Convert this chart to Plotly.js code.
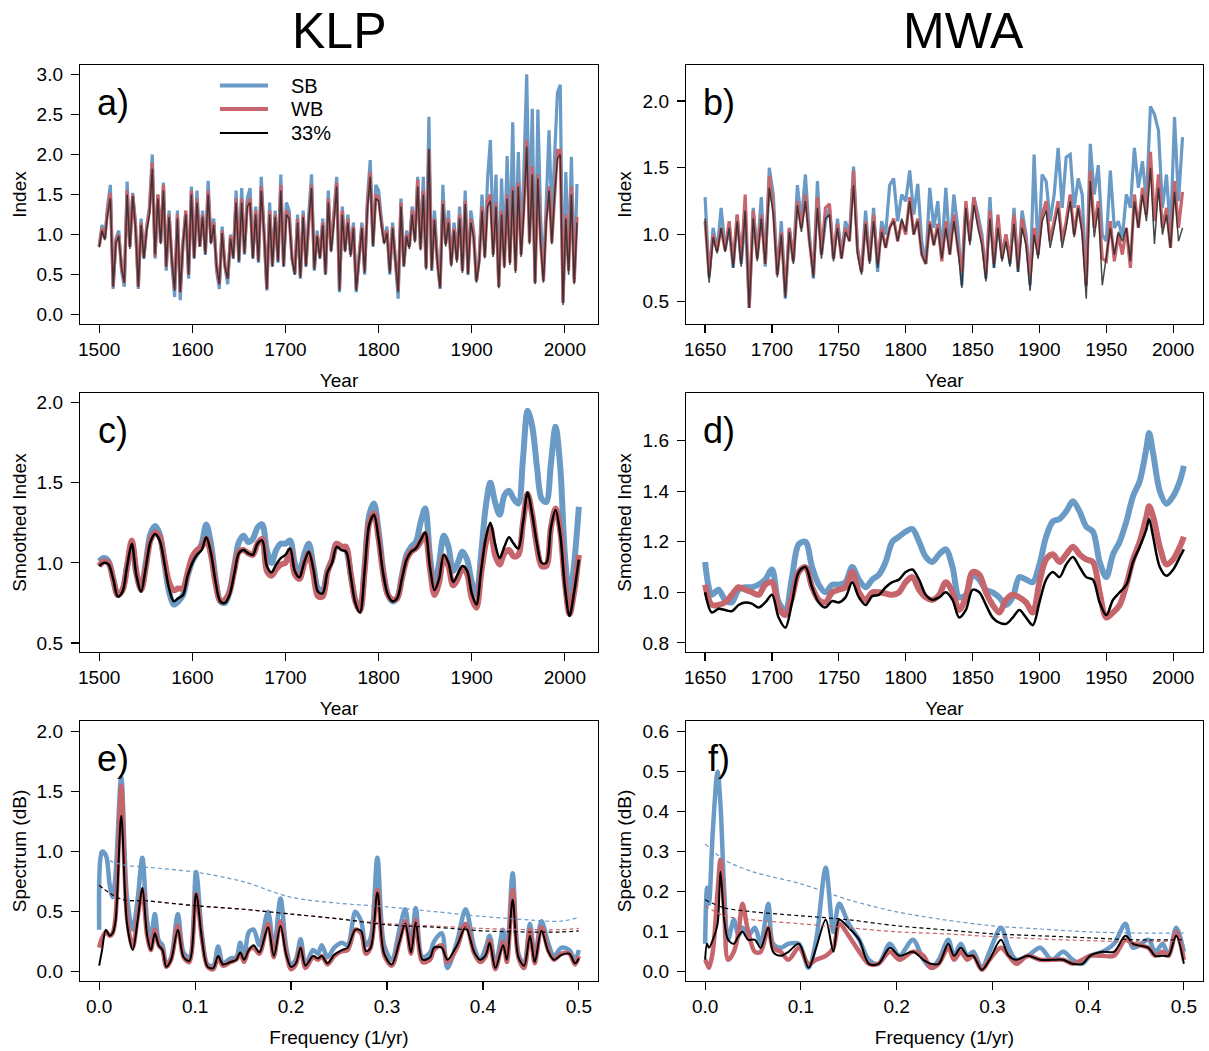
<!DOCTYPE html>
<html>
<head>
<meta charset="utf-8">
<script src="https://cdn.plot.ly/plotly-3.0.1.min.js"></script>
<style>html,body{margin:0;padding:0;background:#fff;}#chart{width:1209px;height:1051px;}</style>
</head>
<body>
<div id="chart"></div>
<script>
// ---------- Panel a: KLP annual index (every 3rd year from 1500) ----------
const aStart = 1500, aStep = 3;
const a_SB = [0.85,1.12,0.95,1.35,1.62,0.32,0.95,1.05,0.55,0.35,
1.66,0.85,1.52,1.15,0.32,1.2,0.7,1.1,1.35,2.0,
0.7,1.5,0.9,1.65,0.55,1.3,0.65,0.22,1.3,0.18,
0.9,1.27,0.45,1.6,0.7,1.55,0.85,1.3,0.75,1.67,
0.9,1.2,0.55,0.32,1.1,0.6,0.38,1.0,0.7,1.55,
0.65,1.58,0.75,1.45,1.58,0.7,1.35,0.65,1.72,1.1,
0.3,1.4,0.6,1.3,0.65,1.75,0.6,1.4,1.3,0.7,
0.5,1.25,0.45,1.3,0.6,1.25,1.75,0.55,1.05,0.7,
1.2,0.5,1.55,0.8,1.25,1.72,0.28,1.35,0.8,1.25,
0.75,1.15,0.28,0.75,1.15,0.5,1.45,1.93,0.85,1.62,
1.55,1.2,0.9,1.1,0.5,1.15,0.7,0.2,1.45,0.6,
1.05,0.85,1.35,0.95,1.72,0.85,1.72,0.6,2.47,0.55,
1.3,0.7,0.32,1.62,0.9,1.3,0.65,1.15,0.7,1.35,
0.55,1.55,0.5,1.3,1.05,0.42,0.7,1.5,0.8,1.7,
2.18,0.9,1.75,0.35,1.7,0.75,1.98,0.8,2.4,0.7,
2.03,0.9,1.8,3.0,1.1,2.57,0.4,2.56,1.2,0.5,
1.4,2.3,1.2,2.1,2.77,2.87,0.15,1.78,0.7,1.97,
0.45,1.63];
const a_WB = [0.85,1.08,0.95,1.3,1.52,0.35,0.92,1.0,0.6,0.4,
1.55,0.85,1.5,1.1,0.35,1.15,0.72,1.08,1.3,1.9,
0.72,1.5,0.9,1.62,0.6,1.25,0.7,0.32,1.25,0.28,
0.9,1.3,0.5,1.55,0.72,1.45,0.85,1.25,0.78,1.55,
0.9,1.15,0.6,0.38,1.05,0.62,0.45,0.98,0.72,1.45,
0.68,1.45,0.78,1.38,1.45,0.72,1.3,0.68,1.6,1.05,
0.32,1.3,0.62,1.25,0.68,1.62,0.62,1.3,1.22,0.72,
0.52,1.2,0.48,1.25,0.62,1.2,1.62,0.58,1.0,0.72,
1.15,0.52,1.45,0.8,1.2,1.65,0.32,1.3,0.8,1.2,
0.75,1.1,0.32,0.75,1.1,0.55,1.38,1.78,0.88,1.5,
1.45,1.15,0.9,1.05,0.55,1.1,0.72,0.3,1.4,0.62,
1.0,0.85,1.3,0.92,1.68,0.82,1.55,0.58,2.05,0.58,
1.2,0.68,0.35,1.42,0.88,1.2,0.62,1.08,0.68,1.25,
0.55,1.42,0.52,1.2,1.0,0.42,0.68,1.35,0.72,1.42,
1.5,0.75,1.4,0.35,1.3,0.6,1.5,0.65,1.6,0.55,
1.65,0.75,1.35,2.18,0.9,1.85,0.4,1.75,0.9,0.42,
1.2,1.6,0.9,1.55,2.05,2.05,0.15,1.25,0.55,1.6,
0.4,1.22];
const a_33 = [0.84,1.05,0.93,1.25,1.45,0.35,0.9,0.98,0.58,0.4,
1.5,0.82,1.48,1.08,0.35,1.12,0.7,1.05,1.25,1.82,
0.75,1.45,0.88,1.55,0.6,1.22,0.68,0.3,1.2,0.28,
0.88,1.25,0.5,1.5,0.7,1.4,0.85,1.22,0.75,1.5,
0.88,1.12,0.6,0.38,1.02,0.6,0.45,0.95,0.7,1.4,
0.66,1.4,0.76,1.35,1.4,0.7,1.25,0.66,1.55,1.02,
0.32,1.25,0.6,1.22,0.66,1.55,0.6,1.25,1.2,0.7,
0.5,1.15,0.46,1.22,0.6,1.18,1.58,0.56,0.98,0.7,
1.12,0.5,1.4,0.78,1.15,1.6,0.3,1.25,0.78,1.15,
0.72,1.08,0.3,0.72,1.08,0.52,1.32,1.72,0.85,1.45,
1.42,1.12,0.88,1.02,0.52,1.08,0.7,0.28,1.35,0.6,
0.98,0.82,1.25,0.9,1.6,0.8,1.5,0.56,2.07,0.55,
1.18,0.66,0.33,1.38,0.85,1.15,0.6,1.05,0.65,1.2,
0.52,1.38,0.5,1.15,0.97,0.4,0.65,1.3,0.7,1.35,
1.42,0.72,1.35,0.33,1.25,0.58,1.45,0.62,1.55,0.52,
1.6,0.72,1.3,2.1,0.88,1.75,0.38,1.7,0.88,0.4,
1.15,1.55,0.88,1.5,1.95,2.0,0.12,1.2,0.5,1.5,
0.38,1.15];

// ---------- Panel b: MWA annual index (every 3rd year from 1650) ----------
const bStart = 1650, bStep = 3;
const b_SB = [1.28,0.68,1.05,0.88,1.2,0.9,1.05,0.75,1.15,0.78,
1.15,0.45,1.2,0.85,1.28,0.76,1.5,1.3,0.7,1.1,
0.52,1.05,0.8,1.37,1.1,1.45,1.0,0.67,1.4,0.85,
1.1,1.2,0.82,1.12,0.85,1.1,1.0,1.51,0.9,0.72,
1.18,0.8,1.2,0.72,1.1,1.0,1.37,1.42,1.1,1.3,
1.25,1.48,1.15,1.38,0.95,0.78,1.35,1.05,1.25,0.85,
1.35,0.9,1.3,1.05,0.62,1.2,1.0,1.28,1.15,1.0,
0.67,1.28,0.75,1.1,0.85,1.0,0.78,1.2,0.72,1.18,
1.0,0.62,1.6,0.85,1.45,1.4,1.1,1.3,1.65,1.2,
1.58,1.6,1.2,1.42,1.3,0.62,1.68,1.3,1.52,1.0,
0.95,1.48,1.05,1.1,0.98,1.3,1.2,1.65,1.35,1.55,
1.25,1.96,1.9,1.78,1.2,1.45,1.0,1.88,1.25,1.73];
const b_WB = [1.1,0.7,1.0,0.88,1.05,0.88,1.1,0.78,1.15,0.8,
1.3,0.45,1.18,0.82,1.15,0.78,1.44,1.2,0.7,1.02,
0.55,1.05,0.8,1.25,1.05,1.3,0.95,0.7,1.28,0.85,
1.2,1.23,0.82,1.08,0.82,1.05,0.95,1.48,0.88,0.72,
1.1,0.8,1.15,0.78,1.05,0.9,1.05,1.12,0.95,1.1,
1.0,1.28,1.0,1.12,0.85,0.78,1.1,0.92,1.08,0.8,
1.1,0.85,1.15,0.9,0.72,1.25,0.95,1.28,1.1,0.95,
0.7,1.18,0.78,1.15,0.82,1.0,0.8,1.15,0.75,1.12,
0.95,0.68,1.05,0.85,1.15,1.25,0.95,1.1,1.25,0.95,
1.1,1.3,1.0,1.22,1.05,0.62,1.48,1.05,1.25,0.82,
0.8,1.1,0.8,1.0,0.85,1.05,0.75,1.3,1.05,1.35,
1.15,1.62,1.1,1.45,1.05,1.2,0.9,1.4,1.05,1.32];
const b_33 = [1.12,0.64,0.98,0.86,1.05,0.87,1.05,0.75,1.1,0.76,
1.18,0.45,1.12,0.8,1.12,0.78,1.35,1.15,0.68,1.0,
0.53,1.02,0.78,1.22,1.02,1.25,0.95,0.68,1.2,0.82,
1.12,1.15,0.8,1.05,0.82,1.02,0.95,1.37,0.85,0.7,
1.08,0.78,1.1,0.75,1.02,0.9,1.05,1.1,0.95,1.12,
1.02,1.25,1.0,1.1,0.85,0.78,1.08,0.92,1.05,0.82,
1.05,0.85,1.1,0.9,0.6,1.2,0.92,1.22,1.05,0.92,
0.65,1.12,0.75,1.05,0.8,0.95,0.76,1.08,0.72,1.05,
0.92,0.58,1.0,0.82,1.1,1.18,0.9,1.05,1.2,0.9,
1.05,1.25,0.98,1.2,1.0,0.52,1.4,0.98,1.2,0.62,
0.82,1.05,0.85,1.02,0.95,1.05,0.8,1.25,1.05,1.3,
1.1,1.5,0.93,1.35,1.0,1.15,0.9,1.32,0.95,1.05];

// ---------- Panel c: KLP smoothed (every 5 years, 1500-2015) ----------
const cStart = 1500, cStep = 5;
const c_SB = [1.01,1.03,1.01,0.9,0.8,0.83,0.98,1.12,0.93,0.84,
1.0,1.18,1.23,1.18,1.0,0.82,0.74,0.76,0.8,0.92,
1.01,1.06,1.12,1.24,1.12,0.9,0.76,0.75,0.82,0.98,
1.13,1.17,1.13,1.15,1.22,1.24,1.08,1.0,1.08,1.12,
1.12,1.14,1.0,0.94,1.05,1.12,0.98,0.84,0.83,0.95,
1.02,1.12,1.1,1.08,0.93,0.77,0.71,0.98,1.3,1.37,
1.2,0.95,0.8,0.76,0.78,0.92,1.05,1.1,1.13,1.25,
1.34,1.05,0.85,1.0,1.17,1.1,0.95,1.0,1.07,1.02,
0.88,0.8,1.05,1.35,1.5,1.38,1.3,1.42,1.45,1.4,
1.37,1.65,1.95,1.85,1.6,1.4,1.38,1.62,1.85,1.6,
1.05,0.78,1.0,1.35];
const c_WB = [0.98,1.01,1.0,0.9,0.8,0.83,0.98,1.14,0.94,0.83,
0.97,1.14,1.19,1.16,1.02,0.88,0.83,0.84,0.84,0.94,
1.04,1.08,1.1,1.15,1.05,0.87,0.76,0.77,0.82,0.95,
1.07,1.08,1.06,1.05,1.12,1.15,0.95,0.92,0.96,0.99,
1.0,1.08,0.93,0.9,0.99,1.06,0.93,0.79,0.79,0.94,
1.02,1.12,1.1,1.1,0.93,0.76,0.7,0.95,1.25,1.31,
1.15,0.93,0.8,0.77,0.78,0.9,1.02,1.07,1.09,1.13,
1.18,0.97,0.8,0.88,1.04,0.98,0.86,0.9,0.97,0.93,
0.78,0.72,0.93,1.12,1.22,1.05,0.99,1.06,1.08,1.04,
1.05,1.25,1.43,1.3,1.1,0.98,0.98,1.22,1.34,1.2,
0.88,0.68,0.82,1.05];
const c_33 = [0.98,1.0,0.99,0.9,0.79,0.82,0.98,1.12,0.92,0.82,
0.97,1.13,1.18,1.14,1.0,0.84,0.76,0.78,0.8,0.92,
1.0,1.05,1.08,1.16,1.06,0.88,0.76,0.75,0.8,0.93,
1.06,1.08,1.06,1.05,1.12,1.14,0.98,0.94,0.99,1.03,
1.05,1.09,0.95,0.91,1.0,1.07,0.96,0.82,0.81,0.94,
1.0,1.1,1.08,1.07,0.92,0.75,0.69,0.95,1.24,1.3,
1.15,0.93,0.8,0.76,0.78,0.9,1.02,1.07,1.09,1.14,
1.19,0.98,0.83,0.9,1.05,1.0,0.88,0.93,0.98,0.95,
0.81,0.74,0.95,1.15,1.25,1.12,1.03,1.1,1.16,1.12,
1.09,1.25,1.44,1.3,1.12,1.0,1.0,1.22,1.33,1.18,
0.85,0.67,0.82,1.02];

// ---------- Panel d: MWA smoothed ----------
const dYears = [1650,1655,1660,1665,1670,1675,1680,1685,1690,1695,
1700,1705,1710,1715,1720,1725,1730,1735,1740,1745,
1750,1755,1760,1765,1770,1775,1780,1785,1790,1795,
1800,1805,1810,1815,1820,1825,1830,1835,1840,1845,
1850,1855,1860,1865,1870,1875,1880,1885,1890,1895,
1900,1905,1910,1915,1920,1925,1930,1935,1940,1945,
1950,1955,1960,1965,1970,1975,1980,1982,1985,1990,1995,
2000,2005,2008];
const d_SB = [1.12,0.99,1.01,0.97,0.96,1.01,1.02,1.02,1.03,1.05,
1.09,0.96,0.93,1.06,1.19,1.2,1.1,1.03,1.0,1.03,
1.03,1.04,1.1,1.05,1.02,1.05,1.07,1.12,1.2,1.22,
1.24,1.25,1.2,1.14,1.12,1.15,1.17,1.1,0.98,0.99,
1.07,1.05,1.01,1.0,0.98,0.95,0.98,1.06,1.05,1.04,
1.11,1.22,1.28,1.29,1.32,1.36,1.32,1.26,1.24,1.12,
1.06,1.15,1.2,1.28,1.38,1.44,1.57,1.63,1.55,1.4,1.35,
1.38,1.44,1.5];
const d_WB = [1.03,0.95,0.95,0.96,0.99,1.02,1.01,1.0,0.99,1.03,
1.04,0.94,0.91,0.98,1.08,1.1,1.02,0.97,0.96,1.0,
1.01,1.02,1.08,1.0,0.97,1.0,1.0,0.995,0.99,1.0,
1.04,1.06,1.01,0.98,0.97,0.99,1.04,1.0,0.93,0.98,
1.08,1.07,1.0,0.95,0.92,0.97,0.99,0.98,0.96,0.92,
1.04,1.13,1.15,1.12,1.15,1.18,1.15,1.13,1.12,1.0,
0.9,0.92,0.95,1.03,1.13,1.2,1.3,1.34,1.3,1.18,1.11,
1.13,1.18,1.22];
const d_33 = [1.0,0.92,0.935,0.93,0.925,0.95,0.96,0.955,0.94,0.96,
0.99,0.9,0.86,0.96,1.08,1.1,1.02,0.96,0.94,0.965,
0.96,0.98,1.04,0.98,0.95,0.985,0.99,1.02,1.04,1.05,
1.08,1.09,1.05,0.99,0.97,0.98,1.0,0.97,0.9,0.93,
1.01,1.0,0.95,0.9,0.88,0.875,0.9,0.93,0.9,0.87,
0.96,1.05,1.08,1.06,1.11,1.14,1.1,1.06,1.05,0.96,
0.91,0.97,1.0,1.03,1.12,1.18,1.25,1.29,1.22,1.1,1.065,
1.09,1.14,1.17];

// ---------- Panel e: KLP spectrum ----------
const eFreq = [0,0.003,0.007,0.011,0.014,0.017,0.023,0.029,0.035,0.04,0.045,
0.05,0.054,0.058,0.062,0.066,0.07,0.075,0.082,0.088,0.094,
0.101,0.107,0.113,0.119,0.124,0.129,0.137,0.143,0.147,0.151,
0.156,0.161,0.167,0.176,0.182,0.189,0.195,0.2,0.205,0.21,
0.215,0.223,0.228,0.232,0.238,0.245,0.253,0.259,0.267,0.273,
0.278,0.283,0.29,0.297,0.305,0.313,0.319,0.325,0.33,0.337,
0.345,0.349,0.357,0.363,0.373,0.382,0.391,0.397,0.403,0.407,
0.413,0.421,0.425,0.431,0.437,0.443,0.449,0.454,0.461,0.468,
0.474,0.482,0.49,0.496,0.5];
const e_SB = [0.35,1.0,0.97,0.72,0.62,0.8,1.62,0.62,0.35,0.6,0.95,
0.42,0.28,0.48,0.26,0.22,0.06,0.12,0.48,0.16,0.12,
0.83,0.32,0.06,0.05,0.21,0.07,0.11,0.12,0.24,0.12,
0.33,0.35,0.22,0.5,0.18,0.61,0.2,0.06,0.1,0.27,
0.06,0.18,0.15,0.22,0.12,0.2,0.24,0.22,0.5,0.42,
0.22,0.28,0.95,0.22,0.1,0.35,0.52,0.2,0.53,0.12,
0.16,0.25,0.32,0.03,0.25,0.52,0.2,0.1,0.2,0.3,
0.06,0.35,0.13,0.82,0.15,0.06,0.4,0.12,0.42,0.24,
0.13,0.2,0.18,0.1,0.18];
const e_WB = [0.2,0.28,0.33,0.3,0.32,0.45,1.55,0.45,0.2,0.45,0.68,
0.3,0.18,0.35,0.22,0.18,0.04,0.1,0.38,0.12,0.08,
0.65,0.28,0.04,0.02,0.12,0.05,0.08,0.1,0.15,0.08,
0.18,0.2,0.15,0.4,0.12,0.42,0.15,0.02,0.06,0.2,
0.03,0.12,0.1,0.13,0.06,0.13,0.17,0.18,0.35,0.32,
0.15,0.2,0.68,0.14,0.05,0.25,0.42,0.15,0.43,0.08,
0.1,0.18,0.22,0.08,0.2,0.4,0.15,0.08,0.13,0.26,
0.02,0.25,0.08,0.68,0.12,0.03,0.35,0.07,0.37,0.18,
0.1,0.15,0.15,0.06,0.13];
const e_33 = [0.05,0.18,0.35,0.3,0.32,0.42,1.3,0.4,0.18,0.42,0.7,
0.3,0.18,0.32,0.22,0.18,0.04,0.1,0.35,0.12,0.09,
0.65,0.28,0.04,0.03,0.13,0.06,0.08,0.1,0.16,0.1,
0.18,0.22,0.16,0.37,0.13,0.38,0.14,0.04,0.07,0.2,
0.05,0.13,0.11,0.13,0.07,0.14,0.18,0.2,0.35,0.34,
0.17,0.2,0.66,0.15,0.06,0.25,0.4,0.16,0.41,0.1,
0.12,0.2,0.2,0.1,0.22,0.37,0.16,0.1,0.14,0.24,
0.03,0.22,0.1,0.6,0.12,0.05,0.3,0.08,0.34,0.17,
0.1,0.14,0.15,0.07,0.11];
const eSigFreq = [0,0.01,0.025,0.05,0.1,0.15,0.2,0.25,0.3,0.35,0.4,0.45,0.48,0.5];
const eSig_SB = [1.0,0.93,0.89,0.87,0.83,0.75,0.62,0.57,0.54,0.5,0.46,0.43,0.42,0.45];
const eSig_WB = [0.72,0.66,0.6,0.59,0.55,0.52,0.48,0.44,0.4,0.38,0.36,0.35,0.35,0.36];
const eSig_33 = [0.72,0.66,0.6,0.59,0.55,0.52,0.48,0.44,0.39,0.37,0.34,0.33,0.33,0.34];

// ---------- Panel f: MWA spectrum ----------
const fFreq = [0,0.002,0.004,0.008,0.013,0.016,0.02,0.024,0.03,0.035,
0.039,0.045,0.052,0.058,0.066,0.071,0.079,0.087,0.098,0.108,
0.116,0.126,0.134,0.14,0.15,0.161,0.171,0.181,0.193,0.203,
0.217,0.228,0.236,0.244,0.254,0.26,0.267,0.274,0.28,0.289,
0.297,0.309,0.317,0.325,0.337,0.35,0.362,0.374,0.384,0.394,
0.402,0.415,0.427,0.439,0.447,0.463,0.47,0.478,0.484,0.492,0.5];
const f_SB = [0.07,0.21,0.17,0.35,0.5,0.42,0.2,0.08,0.13,0.09,
0.11,0.09,0.11,0.07,0.17,0.07,0.06,0.07,0.07,0.01,
0.08,0.26,0.1,0.17,0.12,0.08,0.03,0.02,0.07,0.04,
0.08,0.03,0.01,0.03,0.08,0.04,0.07,0.04,0.05,0.01,
0.05,0.11,0.06,0.03,0.04,0.06,0.03,0.05,0.03,0.02,
0.04,0.05,0.07,0.12,0.06,0.08,0.05,0.07,0.04,0.11,0.05];
const f_WB = [0.03,0.02,0.01,0.05,0.2,0.28,0.15,0.03,0.05,0.1,
0.17,0.1,0.05,0.05,0.11,0.06,0.05,0.03,0.06,0.02,
0.03,0.04,0.06,0.12,0.09,0.05,0.02,0.02,0.05,0.03,
0.05,0.04,0.01,0.02,0.06,0.03,0.05,0.03,0.04,0.005,
0.03,0.06,0.04,0.02,0.04,0.03,0.03,0.03,0.02,0.03,
0.04,0.04,0.04,0.08,0.07,0.06,0.04,0.05,0.04,0.1,0.03];
const f_33 = [0.03,0.07,0.06,0.08,0.12,0.25,0.13,0.08,0.07,0.09,
0.1,0.08,0.08,0.06,0.11,0.05,0.04,0.05,0.07,0.01,
0.06,0.13,0.05,0.13,0.11,0.08,0.02,0.02,0.06,0.04,
0.05,0.03,0.02,0.02,0.07,0.04,0.06,0.04,0.04,0.005,
0.03,0.08,0.04,0.03,0.04,0.03,0.03,0.03,0.02,0.02,
0.04,0.05,0.05,0.09,0.07,0.06,0.04,0.04,0.04,0.09,0.02];
const fSigFreq = [0,0.02,0.05,0.1,0.15,0.2,0.25,0.3,0.35,0.4,0.45,0.5];
const fSig_SB = [0.32,0.28,0.25,0.22,0.18,0.15,0.13,0.115,0.107,0.1,0.097,0.097];
const fSig_WB = [0.165,0.14,0.13,0.12,0.11,0.1,0.095,0.088,0.082,0.078,0.075,0.078];
const fSig_33 = [0.18,0.16,0.15,0.14,0.13,0.115,0.105,0.095,0.09,0.085,0.08,0.08];

// ---------- Labels ----------
const seriesNames = ['SB','WB','33%'];
const colTitles = ['KLP','MWA'];
const panelLabels = ['a)','b)','c)','d)','e)','f)'];

// ---------- build ----------
const FONT = 'Liberation Sans, Arial, Helvetica, sans-serif';
const BLUE = '#6a9ac6', RED = '#c6656b', BLACK = '#000000';

function yearsFor(start, step, n){ const out=[]; for(let i=0;i<n;i++) out.push(start+i*step); return out; }
function ln(x, y, xa, ya, line){
  return {type:'scatter', mode:'lines', x:x, y:y, xaxis:xa, yaxis:ya, line:line, hoverinfo:'skip', showlegend:false};
}
const aX = yearsFor(aStart, aStep, a_SB.length);
const bX = yearsFor(bStart, bStep, b_SB.length);
const cX = yearsFor(cStart, cStep, c_SB.length);
const S = (c,w)=>({color:c, width:w, shape:'spline', smoothing:0.9});
const D = (c)=>({color:c, width:1.2, dash:'4px,3px', shape:'spline', smoothing:0.9});
const GREY = 'rgba(40,40,40,0.85)';

const traces = [
  ln(aX, a_SB, 'x','y', {color:BLUE, width:3.2}),
  ln(aX, a_WB, 'x','y', {color:RED, width:3.2}),
  ln(aX, a_33, 'x','y', {color:GREY, width:1.5}),
  ln(bX, b_SB, 'x2','y2', {color:BLUE, width:3.2}),
  ln(bX, b_WB, 'x2','y2', {color:RED, width:3.2}),
  ln(bX, b_33, 'x2','y2', {color:GREY, width:1.5}),
  ln(cX, c_SB, 'x3','y3', S(BLUE,6)),
  ln(cX, c_WB, 'x3','y3', S(RED,6)),
  ln(cX, c_33, 'x3','y3', S(BLACK,2.5)),
  ln(dYears, d_SB, 'x4','y4', S(BLUE,6)),
  ln(dYears, d_WB, 'x4','y4', S(RED,6)),
  ln(dYears, d_33, 'x4','y4', S(BLACK,2.5)),
  ln(eFreq, e_SB, 'x5','y5', S(BLUE,4.5)),
  ln(eFreq, e_WB, 'x5','y5', S(RED,4.5)),
  ln(eFreq, e_33, 'x5','y5', S(BLACK,2)),
  ln(eSigFreq, eSig_SB, 'x5','y5', D(BLUE)),
  ln(eSigFreq, eSig_WB, 'x5','y5', D(RED)),
  ln(eSigFreq, eSig_33, 'x5','y5', D(BLACK)),
  ln(fFreq, f_SB, 'x6','y6', S(BLUE,4.5)),
  ln(fFreq, f_WB, 'x6','y6', S(RED,4.5)),
  ln(fFreq, f_33, 'x6','y6', S(BLACK,2)),
  ln(fSigFreq, fSig_SB, 'x6','y6', D(BLUE)),
  ln(fSigFreq, fSig_WB, 'x6','y6', D(RED)),
  ln(fSigFreq, fSig_33, 'x6','y6', D(BLACK))
];

const tf = {family:FONT, size:19, color:'#000'};
function axis(o){
  return Object.assign({showline:true, mirror:true, linecolor:'#000', linewidth:1.2,
    ticks:'outside', ticklen:8, tickwidth:1.2, tickcolor:'#000', showgrid:false, zeroline:false,
    tickfont:tf, ticklabelstandoff:4, automargin:false, fixedrange:true}, o);
}
function xaxis(o){ return axis(Object.assign({ticklabelstandoff:0}, o)); }
function ttl(t, s){ return {text:t, font:tf, standoff:s}; }
const L=[0,0.4613], R=[0.5396,1], R1=[0.7172,1], R2=[0.3592,0.6419], R3=[0,0.2838];

const layout = {
  width:1209, height:1051, margin:{l:80, r:6, t:65, b:70},
  paper_bgcolor:'#fff', plot_bgcolor:'#fff', showlegend:false, font:{family:FONT, color:'#000'},
  xaxis: xaxis({domain:L, anchor:'y', range:[1479.4,2035.6], tickvals:[1500,1600,1700,1800,1900,2000], title:ttl('Year',14)}),
  yaxis: axis({domain:R1, anchor:'x', range:[-0.117,3.116], tickvals:[0,0.5,1,1.5,2,2.5,3], tickformat:'.1f', title:ttl('Index',5)}),
  xaxis2: xaxis({domain:R, anchor:'y2', range:[1635.7,2022.3], tickvals:[1650,1700,1750,1800,1850,1900,1950,2000], title:ttl('Year',14)}),
  yaxis2: axis({domain:R1, anchor:'x2', range:[0.33,2.27], tickvals:[0.5,1,1.5,2], tickformat:'.1f', title:ttl('Index',5)}),
  xaxis3: xaxis({domain:L, anchor:'y3', range:[1479.4,2035.6], tickvals:[1500,1600,1700,1800,1900,2000], title:ttl('Year',14)}),
  yaxis3: axis({domain:R2, anchor:'x3', range:[0.444,2.06], tickvals:[0.5,1,1.5,2], tickformat:'.1f', title:ttl('Smoothed Index',5)}),
  xaxis4: xaxis({domain:R, anchor:'y4', range:[1635.7,2022.3], tickvals:[1650,1700,1750,1800,1850,1900,1950,2000], title:ttl('Year',14)}),
  yaxis4: axis({domain:R2, anchor:'x4', range:[0.764,1.788], tickvals:[0.8,1,1.2,1.4,1.6], tickformat:'.1f', title:ttl('Smoothed Index',5)}),
  xaxis5: xaxis({domain:L, anchor:'y5', range:[-0.02,0.52], tickvals:[0,0.1,0.2,0.3,0.4,0.5], tickformat:'.1f', title:ttl('Frequency (1/yr)',14)}),
  yaxis5: axis({domain:R3, anchor:'x5', range:[-0.078,2.089], tickvals:[0,0.5,1,1.5,2], tickformat:'.1f', title:ttl('Spectrum (dB)',5)}),
  xaxis6: xaxis({domain:R, anchor:'y6', range:[-0.02,0.52], tickvals:[0,0.1,0.2,0.3,0.4,0.5], tickformat:'.1f', title:ttl('Frequency (1/yr)',14)}),
  yaxis6: axis({domain:R3, anchor:'x6', range:[-0.023,0.627], tickvals:[0,0.1,0.2,0.3,0.4,0.5,0.6], tickformat:'.1f', title:ttl('Spectrum (dB)',5)}),
  annotations: [],
  shapes: []
};

// column titles
layout.annotations.push({text:colTitles[0], xref:'paper', yref:'paper', x:0.2315, y:1.037, xanchor:'center', yanchor:'middle', showarrow:false, font:{family:FONT, size:50, color:'#000'}});
layout.annotations.push({text:colTitles[1], xref:'paper', yref:'paper', x:0.7863, y:1.037, xanchor:'center', yanchor:'middle', showarrow:false, font:{family:FONT, size:50, color:'#000'}});
// panel labels
const axNames = ['x','x2','x3','x4','x5','x6'], ayNames = ['y','y2','y3','y4','y5','y6'];
panelLabels.forEach((t,i)=>{
  layout.annotations.push({text:t, xref:axNames[i]+' domain', yref:ayNames[i]+' domain', x:0.064, y:0.855, xanchor:'center', yanchor:'middle', showarrow:false, font:{family:FONT, size:36, color:'#000'}});
});
// legend (panel a)
const legCols = [BLUE, RED, BLACK], legW = [4, 4, 1.8], legY = [0.9208, 0.830, 0.7375];
seriesNames.forEach((n,i)=>{
  layout.shapes.push({type:'line', xref:'x domain', yref:'y domain', x0:0.27, x1:0.363, y0:legY[i], y1:legY[i], line:{color:legCols[i], width:legW[i]}});
  layout.annotations.push({text:n, xref:'x domain', yref:'y domain', x:0.405, y:legY[i], xanchor:'left', yanchor:'middle', borderpad:0, showarrow:false, font:{family:FONT, size:20, color:'#000'}});
});

Plotly.newPlot('chart', traces, layout, {staticPlot:true, displayModeBar:false});
</script>
</body>
</html>
